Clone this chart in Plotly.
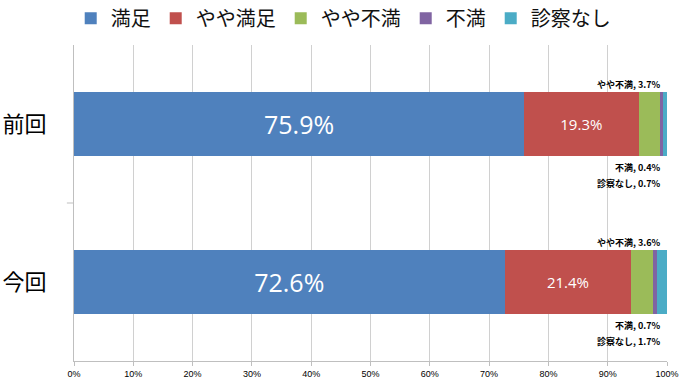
import plotly.graph_objects as go

categories = ["前回", "今回"]
series_names = ["満足", "やや満足", "やや不満", "不満", "診察なし"]
manzoku = [75.9, 72.6]
yaya_manzoku = [19.3, 21.4]
yaya_fuman = [3.7, 3.6]
fuman = [0.4, 0.7]
nashi = [0.7, 1.7]
colors = ["#4F81BD", "#C0504D", "#9BBB59", "#8064A2", "#4BACC6"]
x_ticks = [0, 10, 20, 30, 40, 50, 60, 70, 80, 90, 100]

values = [manzoku, yaya_manzoku, yaya_fuman, fuman, nashi]

JP = "Noto Sans CJK JP"
fig = go.Figure()
for i, (name, vals) in enumerate(zip(series_names, values)):
    kw = {}
    if i == 0:
        kw = dict(text=[f"{v:.1f}%" for v in vals], textposition="inside",
                  insidetextanchor="middle",
                  textfont=dict(color="white", size=25, family="Open Sans"))
    elif i == 1:
        kw = dict(text=[f"{v:.1f}%" for v in vals], textposition="inside",
                  insidetextanchor="middle",
                  textfont=dict(color="white", size=15, family="Open Sans"))
    else:
        kw = dict(textposition="none")
    fig.add_trace(go.Bar(
        y=categories, x=vals, name=name, orientation="h",
        marker=dict(color=colors[i], line=dict(width=0)),
        width=0.4, hoverinfo="skip", **kw))

# outside small labels
ann = []
for ci, cat in enumerate(categories):
    ann.append(dict(x=100, y=cat, xref="x", yref="y", xanchor="right", yanchor="middle",
                    xshift=-4, yshift=40, text=f"<b>{series_names[2]}, {yaya_fuman[ci]:.1f}%</b>",
                    showarrow=False, font=dict(size=9, family=JP, color="#000")))
    ann.append(dict(x=100, y=cat, xref="x", yref="y", xanchor="right", yanchor="middle",
                    xshift=-4, yshift=-43, text=f"<b>{series_names[3]}, {fuman[ci]:.1f}%</b>",
                    showarrow=False, font=dict(size=9, family=JP, color="#000")))
    ann.append(dict(x=100, y=cat, xref="x", yref="y", xanchor="right", yanchor="middle",
                    xshift=-4, yshift=-59, text=f"<b>{series_names[4]}, {nashi[ci]:.1f}%</b>",
                    showarrow=False, font=dict(size=9, family=JP, color="#000")))

fig.update_layout(
    width=680, height=387,
    margin=dict(l=74, r=13, t=45, b=26, autoexpand=False),
    barmode="stack", bargap=0.6,
    plot_bgcolor="white", paper_bgcolor="white",
    font=dict(family=JP, color="#000"),
    hovermode=False,
    showlegend=True,
    legend=dict(orientation="h", traceorder="normal",
                x=0.104, xref="container", xanchor="left",
                y=0.953, yref="container", yanchor="middle",
                font=dict(size=20, family=JP, color="#111"), itemwidth=30,
                bgcolor="rgba(0,0,0,0)"),
    annotations=ann,
    xaxis=dict(range=[0, 100], tickvals=x_ticks, ticktext=[f"{t}%" for t in x_ticks],
               showgrid=True, gridcolor="#D0D0D0", gridwidth=1,
               showline=True, linecolor="#BFBFBF", ticks="outside", ticklen=4,
               tickcolor="#BFBFBF", tickfont=dict(size=9, family="Liberation Sans"),
               zeroline=False, fixedrange=True, automargin=False),
    yaxis=dict(autorange="reversed", showline=True, linecolor="#BFBFBF",
               tickfont=dict(size=22, family=JP), ticks="", ticklabelstandoff=22,
               showgrid=False, zeroline=False, automargin=False, fixedrange=True),
)
fig.add_shape(type="line", xref="paper", yref="paper", x0=-0.012, x1=0, y0=0.5, y1=0.5,
              line=dict(color="#BFBFBF", width=1))
fig.write_html("out.html", config={"displayModeBar": False},
               post_script="document.body.style.margin='0';")
